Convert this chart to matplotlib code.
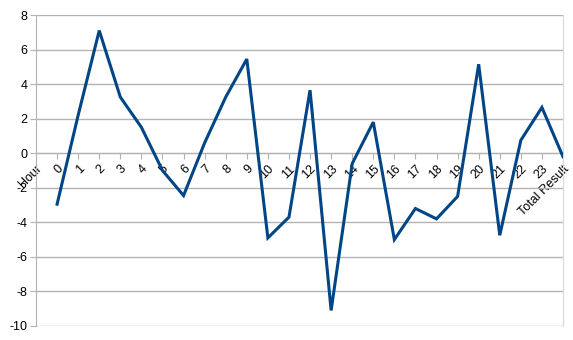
import numpy as np
import matplotlib
matplotlib.use('Agg')
import matplotlib.pyplot as plt

plt.rcParams['font.family'] = ['Liberation Sans', 'DejaVu Sans']

categories = ['Hour'] + [str(h) for h in range(24)] + ['Total Result']
values = [np.nan,
          -2.95, 2.2, 7.1, 3.25, 1.5, -1.0, -2.45, 0.6, 3.25, 5.45,
          -4.9, -3.7, 3.65, -9.1, -0.6, 1.8, -5.0, -3.2, -3.8, -2.5,
          5.15, -4.75, 0.75, 2.65, -0.2]
y_ticks = list(range(-10, 9, 2))

fig = plt.figure(figsize=(5.73, 3.4), dpi=100)
ax = fig.add_axes([36 / 573, 14 / 340, 527 / 573, 311 / 340])

# x axis sits on the zero line
ax.spines['bottom'].set_position(('data', 0))
ax.spines['bottom'].set_color('#b3b3b3')
ax.spines['left'].set_color('#b3b3b3')
ax.spines['right'].set_color('#d9d9d9')
ax.spines['top'].set_visible(False)

x = np.arange(len(categories))
ax.plot(x, values, color='#004586', linewidth=2.2, solid_joinstyle='miter', zorder=3)

ax.set_xlim(0, len(categories) - 1)
ax.set_ylim(-10, 8)
ax.set_yticks(y_ticks)
ax.set_yticklabels([str(t) for t in y_ticks], fontsize=9)
ax.yaxis.grid(True, color='#b3b3b3', linewidth=1.0)
ax.set_axisbelow(True)

ax.set_xticks(x)
ax.set_xticklabels(categories, fontsize=9)
plt.setp(ax.get_xticklabels(), rotation=45, ha='right', va='top',
         rotation_mode='anchor')
ax.tick_params(axis='x', length=4, color='#b3b3b3', pad=3)
ax.tick_params(axis='y', length=4, color='#b3b3b3', pad=2)

fig.savefig('out.png', dpi=100)
